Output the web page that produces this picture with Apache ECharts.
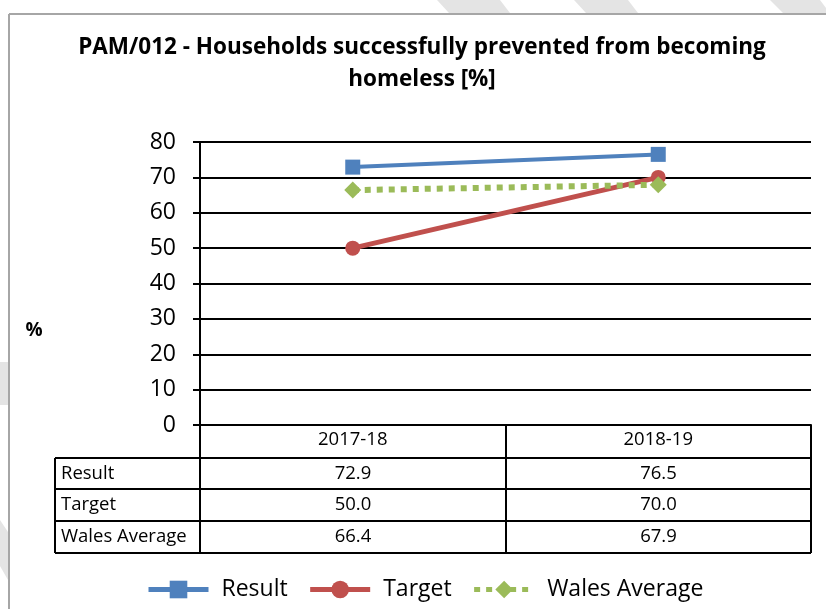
<!DOCTYPE html>
<html>
<head>
    <meta charset="utf-8">
    <title>PAM/012</title>
    <script src="https://cdn.jsdelivr.net/npm/echarts@6/dist/echarts.min.js"></script>
</head>
<body style="margin:0;background:#fff">
<div id="main" style="width: 826px;height:609px;"></div>
<script type="text/javascript">
    // data
    var years = ['2017-18', '2018-19'];
    var result = [72.9, 76.5];
    var target = [50.0, 70.0];
    var walesAvg = [66.4, 67.9];
    var rowNames = ['Result', 'Target', 'Wales Average'];
    var yTicks = [0, 10, 20, 30, 40, 50, 60, 70, 80];

    var FONT = '"Open Sans", "Noto Sans", sans-serif';
    var colors = ['#4F81BD', '#C0504D', '#9BBB59'];

    var myChart = echarts.init(document.getElementById('main'));

    var graphic = [];

    // pale page-background stripes outside the chart frame
    var shade = { fill: '#e4e4e4' };
    [
        [[437, 0], [500, 0], [510, 13], [449, 13]],
        [[574, 0], [628, 0], [638, 13], [586, 13]],
        [[770, 0], [820, 0], [826, 8], [826, 13], [783, 13]],
        [[0, 362], [8, 362], [8, 405], [0, 405]],
        [[0, 520], [8, 532], [8, 580], [0, 566]]
    ].forEach(function (pts) {
        graphic.push({ type: 'polygon', shape: { points: pts }, style: shade, silent: true, z: -1 });
    });

    // table under the plot: lines + texts from the arrays
    var gLeft = 200, gRight = 811, tTop = 425, colMid = 506, tLeft = 55;
    var rowY = [458, 489, 521, 553];
    var lineStyle = { stroke: '#000', lineWidth: 2 };
    function hline(x1, x2, y) {
        graphic.push({ type: 'line', shape: { x1: x1, y1: y, x2: x2, y2: y }, style: lineStyle, silent: true });
    }
    function vline(x, y1, y2) {
        graphic.push({ type: 'line', shape: { x1: x, y1: y1, x2: x, y2: y2 }, style: lineStyle, silent: true });
    }
    rowY.forEach(function (y) { hline(tLeft, gRight, y); });
    vline(tLeft, rowY[0], rowY[3]);
    vline(gLeft, tTop, rowY[3]);
    vline(colMid, tTop, rowY[3]);
    vline(gRight, tTop, rowY[3]);

    var rows = [result, target, walesAvg];
    var colCenters = [(gLeft + colMid) / 2, (colMid + gRight) / 2];
    rows.forEach(function (vals, r) {
        var cy = (rowY[r] + rowY[r + 1]) / 2;
        graphic.push({
            type: 'text', x: tLeft + 6, y: cy,
            style: { text: rowNames[r], font: '18.5px ' + FONT, fill: '#000', verticalAlign: 'middle' }
        });
        vals.forEach(function (v, c) {
            graphic.push({
                type: 'text', x: colCenters[c], y: cy,
                style: { text: v.toFixed(1), font: '18.5px ' + FONT, fill: '#000', align: 'center', verticalAlign: 'middle' }
            });
        });
    });

    // frame of the chart area
    graphic.push({ type: 'line', shape: { x1: 9, y1: 14, x2: 826, y2: 14 }, style: { stroke: '#a6a6a6', lineWidth: 2 } });
    graphic.push({ type: 'line', shape: { x1: 9, y1: 14, x2: 9, y2: 609 }, style: { stroke: '#a6a6a6', lineWidth: 2 } });

    // "%" axis name
    graphic.push({
        type: 'text', x: 34, y: 331,
        style: { text: '%', font: 'bold 19px ' + FONT, fill: '#000', align: 'center', verticalAlign: 'middle' }
    });

    var option = {
        animation: false,
        color: colors,
        title: {
            text: 'PAM/012 - Households successfully prevented from becoming\nhomeless [%]',
            left: 417,
            textAlign: 'center',
            top: 27,
            textStyle: { fontFamily: FONT, fontSize: 22.5, fontWeight: 'bold', color: '#000', lineHeight: 32 }
        },
        legend: {
            bottom: 3,
            left: 141,
            itemWidth: 60,
            itemHeight: 22,
            itemGap: 20,
            textStyle: { fontFamily: FONT, fontSize: 23, color: '#000', padding: [0, 0, 0, 8] },
            lineStyle: { width: 5 },
            data: ['Result', 'Target', 'Wales Average']
        },
        grid: { left: gLeft, right: 826 - gRight, top: 142, bottom: 609 - tTop },
        xAxis: {
            type: 'category',
            data: years,
            axisLine: { lineStyle: { color: '#000', width: 2 } },
            axisTick: { show: false },
            axisLabel: { fontFamily: FONT, fontSize: 18.5, color: '#000', margin: 5 }
        },
        yAxis: {
            type: 'value',
            min: yTicks[0],
            max: yTicks[yTicks.length - 1],
            interval: 10,
            axisLine: { show: true, lineStyle: { color: '#000', width: 2 } },
            axisTick: { show: true, length: 7, lineStyle: { color: '#000', width: 2 } },
            axisLabel: { fontFamily: FONT, fontSize: 23, color: '#000', margin: 24 },
            splitLine: { lineStyle: { color: '#000', width: 2 } }
        },
        series: [
            {
                name: 'Result', type: 'line', data: result,
                symbol: 'rect', symbolSize: 15,
                lineStyle: { width: 4 }
            },
            {
                name: 'Target', type: 'line', data: target,
                symbol: 'circle', symbolSize: 15,
                lineStyle: { width: 5 }
            },
            {
                name: 'Wales Average', type: 'line', data: walesAvg,
                symbol: 'diamond', symbolSize: 17,
                lineStyle: { width: 6, type: [6, 6] }
            }
        ],
        graphic: graphic
    };

    myChart.setOption(option);
</script>
</body>
</html>
